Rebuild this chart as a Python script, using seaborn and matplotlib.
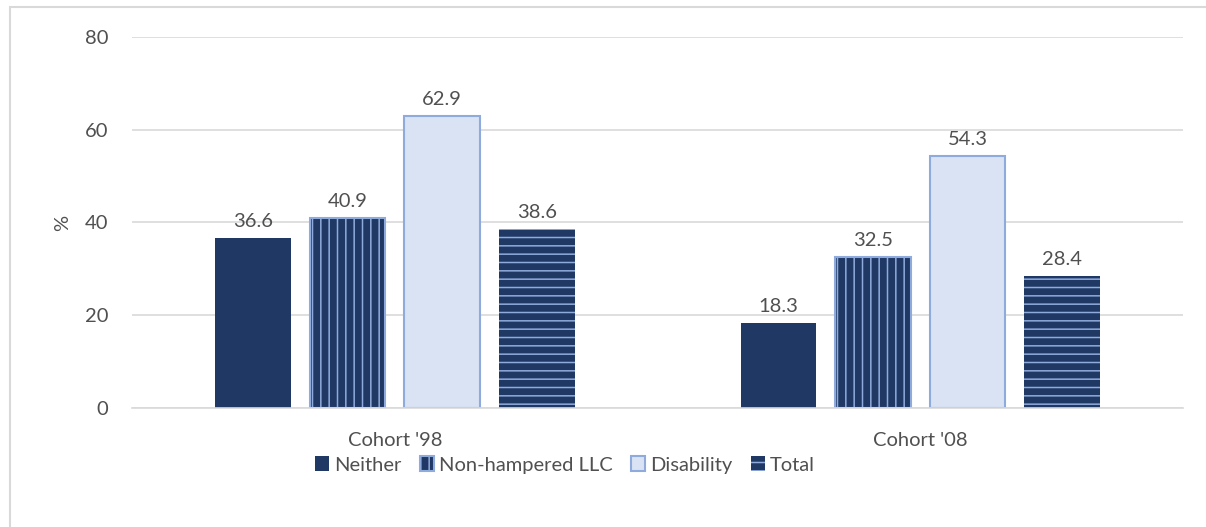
import matplotlib
matplotlib.use("Agg")
import matplotlib.pyplot as plt
from matplotlib.patches import Rectangle
import seaborn as sns
import pandas as pd

# Data
cohorts = ["Cohort '98", "Cohort '08"]
groups = ["Neither", "Non-hampered LLC", "Disability", "Total"]
neither = [36.6, 18.3]
non_hampered = [40.9, 32.5]
disability = [62.9, 54.3]
total = [38.6, 28.4]

df = pd.DataFrame({
    "cohort": cohorts * 4,
    "group": [g for g in groups for _ in cohorts],
    "value": neither + non_hampered + disability + total,
})

navy = "#1F3864"
light_edge = "#8FAADC"
light_fill = "#DAE3F3"
text_col = "#505050"
grid_col = "#D9D9D9"
fs = 14.5

sns.set_style("white")
plt.rcParams["font.family"] = ["Lato", "DejaVu Sans"]
plt.rcParams["hatch.linewidth"] = 1.1

fig, ax = plt.subplots(figsize=(12.06, 5.27), dpi=100)
fig.subplots_adjust(left=0.1095, right=0.981, top=0.9298, bottom=0.2258)

sns.barplot(data=df, x="cohort", y="value", hue="group", hue_order=groups,
            palette=[navy, navy, light_fill, navy], saturation=1,
            width=0.72, gap=0.2, ax=ax, legend=False)

# per-series styling: (edgecolor, linewidth, hatch)
styles = [
    (navy, 0.0, None),
    (light_edge, 1.5, "||"),
    (light_edge, 1.5, None),
    (light_edge, 0.0, "--"),
]
for cont, (ec, lw, hatch) in zip(ax.containers, styles):
    for p in cont.patches:
        p.set_edgecolor(ec)
        p.set_linewidth(lw)
        if hatch:
            p.set_hatch(hatch)
    ax.bar_label(cont, fmt="%.1f", padding=6, fontsize=fs, color=text_col)

ax.set_ylim(0, 80)
ax.set_xlim(-0.5, 1.5)
ax.set_yticks([0, 20, 40, 60, 80])
ax.yaxis.grid(True, color=grid_col, linewidth=1.2)
ax.set_axisbelow(True)
for s in ["top", "right", "left"]:
    ax.spines[s].set_visible(False)
ax.spines["bottom"].set_color(grid_col)
ax.spines["bottom"].set_linewidth(1.2)
ax.tick_params(axis="both", length=0, labelsize=fs, labelcolor=text_col)
ax.tick_params(axis="y", pad=17)
ax.tick_params(axis="x", pad=17)
ax.set_xlabel("")
ax.set_ylabel("%", fontsize=fs, color=text_col, labelpad=10)

handles = [c.patches[0] for c in ax.containers]
fig.legend(handles, groups, loc="center", bbox_to_anchor=(565 / 1206, 1 - 465 / 527),
           ncol=4, frameon=False, fontsize=fs, labelcolor=text_col,
           handlelength=0.7, handleheight=0.7, handletextpad=0.25, columnspacing=0.9)

# outer chart border
fig.patches.append(Rectangle((10 / 1206, -0.1), 1.2, 1.1 - 7 / 527, transform=fig.transFigure,
                             fill=False, edgecolor=grid_col, linewidth=1.5))

fig.savefig("out.png", dpi=100)
